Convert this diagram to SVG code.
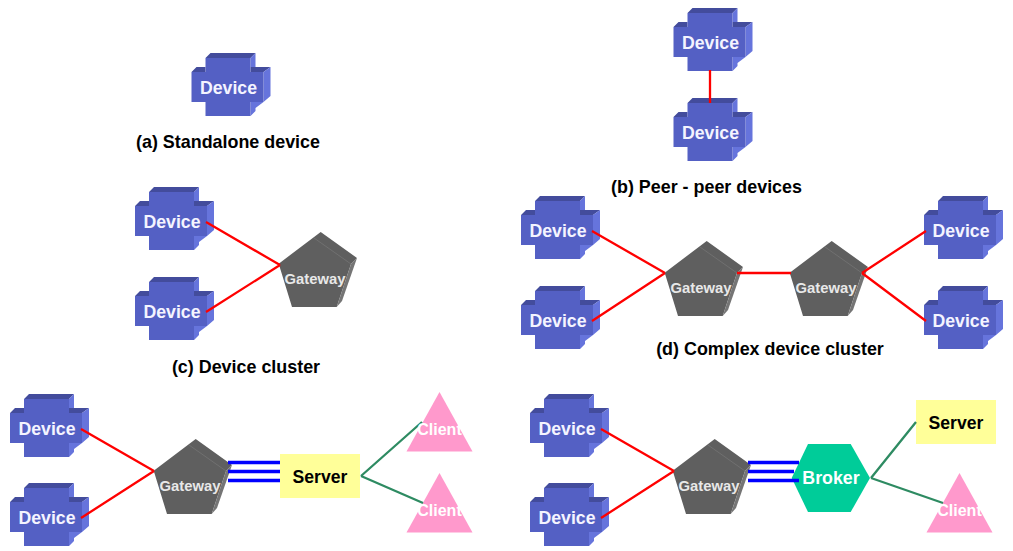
<svg xmlns="http://www.w3.org/2000/svg" width="1013" height="551" viewBox="0 0 1013 551">
<style>
text{font-family:"Liberation Sans",Arial,sans-serif;font-weight:bold;text-anchor:middle}
.cap{font-size:17.900px;fill:#000}
.dev{font-size:17.700px;fill:#f4f4ff}
.gw{font-size:14.800px;fill:#e8e8e8}
.cl{font-size:16px;fill:#fff}
.srv{font-size:17.600px;fill:#000}
.brk{font-size:17.800px;fill:#fff}
.red{stroke:#f00;stroke-width:2.300;fill:none}
.grn{stroke:#2e8b62;stroke-width:2.300;fill:none}
.blu{stroke:#00f;stroke-width:3.300;fill:none}
</style>
<defs>
<g id="dv">
<path fill="#434c9c" d="M-23-30L-18-35H27L22-30ZM-37-16L-32-21H-23V-16ZM22-16V-21H42L35-16Z"/>
<path fill="#6674dc" d="M22-30L27-35V-21H22ZM35-16L42-21V8L35 14ZM22 14H35L27 20V23L22 28Z"/>
<path fill="#5460c4" d="M-23-30H22V-16H35V14H22V28H-23V14H-37V-16H-23Z"/>
</g>
<g id="gwy">
<path fill="#5f5f5f" d="M5.700-47L42-21L36-15L21.700 28H-23L-36.300-15.300Z"/>
<path fill="#757575" d="M36-15L42-21L27 22L21.700 28Z"/>
<path fill="none" stroke="#707070" d="M-1-41L36-15"/>
</g>
<polygon id="tri" fill="#ff99cc" points="0,-30 33,29.500 -33,29.500"/>
</defs>

<g id="nodes">
<g id="a1"><use href="#dv" x="228.500" y="88"/><text class="dev" x="228.500" y="94">Device</text></g>
<g id="b1"><use href="#dv" x="710.500" y="43"/><text class="dev" x="710.500" y="49">Device</text></g>
<g id="b2"><use href="#dv" x="710.500" y="133"/><text class="dev" x="710.500" y="139">Device</text></g>
<g id="c1"><use href="#dv" x="172" y="222"/><text class="dev" x="172" y="228">Device</text></g>
<g id="c2"><use href="#dv" x="172" y="312"/><text class="dev" x="172" y="318">Device</text></g>
<g id="c3"><use href="#gwy" x="315" y="279"/><text class="gw" x="315" y="284">Gateway</text></g>
<g id="d1"><use href="#dv" x="558" y="231"/><text class="dev" x="558" y="237">Device</text></g>
<g id="d2"><use href="#dv" x="558" y="321"/><text class="dev" x="558" y="327">Device</text></g>
<g id="d3"><use href="#gwy" x="701" y="288"/><text class="gw" x="701" y="293">Gateway</text></g>
<g id="d4"><use href="#gwy" x="826" y="288"/><text class="gw" x="826" y="293">Gateway</text></g>
<g id="d5"><use href="#dv" x="961" y="231"/><text class="dev" x="961" y="237">Device</text></g>
<g id="d6"><use href="#dv" x="961" y="321"/><text class="dev" x="961" y="327">Device</text></g>
<g id="e1"><use href="#dv" x="47" y="429"/><text class="dev" x="47" y="435">Device</text></g>
<g id="e2"><use href="#dv" x="47" y="518"/><text class="dev" x="47" y="524">Device</text></g>
<g id="e3"><use href="#gwy" x="190" y="486"/><text class="gw" x="190" y="491">Gateway</text></g>
<g id="e4"><rect x="280" y="454" width="80" height="44" fill="#ffff99"/><text class="srv" x="320" y="483">Server</text></g>
<g id="e5"><use href="#tri" x="439.500" y="422"/></g>
<g id="e6"><use href="#tri" x="439.500" y="503"/></g>
<g id="f1"><use href="#dv" x="567" y="429"/><text class="dev" x="567" y="435">Device</text></g>
<g id="f2"><use href="#dv" x="567" y="518"/><text class="dev" x="567" y="524">Device</text></g>
<g id="f3"><use href="#gwy" x="709" y="486"/><text class="gw" x="709" y="491">Gateway</text></g>
<g id="f4"><polygon points="791.700,478 808,444 850.700,444 870,478 850.700,512 808,512" fill="#00cc99"/><text class="brk" x="831" y="484">Broker</text></g>
<g id="f5"><rect x="916" y="400" width="80" height="44" fill="#ffff99"/><text class="srv" x="956" y="429">Server</text></g>
<g id="f6"><use href="#tri" x="959.500" y="503"/></g>
</g>

<g id="connectors">
<path class="red" d="M710 70V103"/>
<path class="red" d="M206 222L280 265M206 312L280 265"/>
<path class="red" d="M592 231L665 273M592 321L665 273"/>
<path class="red" d="M737 273H791"/>
<path class="red" d="M862 273L926 231M862 273L926 321"/>
<path class="red" d="M81 429L154 471M81 518L154 471"/>
<path class="red" d="M601 429L674 471M601 518L674 471"/>
<path class="blu" d="M228 462.500H280M228 471.500H280M228 480.500H280"/>
<path class="blu" d="M748 462.500H799M748 471.500H794M748 480.500H799"/>
<path class="grn" d="M361 476L422 422M361 476L423 503"/>
<path class="grn" d="M871 478L916 422M871 478L943 503"/>
</g>

<g id="overlay-labels">
<text class="cl" x="439.500" y="435">Client</text>
<text class="cl" x="439.500" y="515.500">Client</text>
<text class="cl" x="959.500" y="515.500">Client</text>
</g>

<g id="captions">
<text class="cap" x="228" y="148">(a) Standalone device</text>
<text class="cap" x="706.500" y="193">(b) Peer - peer devices</text>
<text class="cap" x="246" y="373">(c) Device cluster</text>
<text class="cap" x="770" y="355">(d) Complex device cluster</text>
</g>
</svg>
